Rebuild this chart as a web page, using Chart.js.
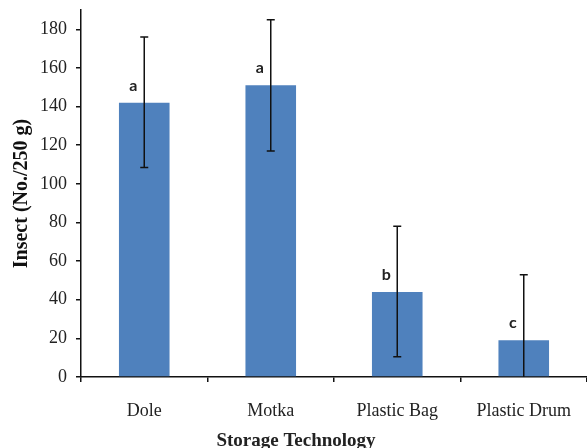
<!DOCTYPE html>
<html>
<head>
<meta charset="utf-8">
<script src="https://cdn.jsdelivr.net/npm/chart.js@4.4.0/dist/chart.umd.min.js"></script>
<style>
  html, body { margin: 0; padding: 0; background: #fff; }
  #wrap { width: 587px; height: 448px; }
</style>
</head>
<body>
<div id="wrap"><canvas id="insectChart"></canvas></div>
<script>
const categories = ["Dole", "Motka", "Plastic Bag", "Plastic Drum"];
const insectMeans = [142, 151, 44, 19];
const errHigh = [176, 185, 78, 53];
const errLow = [108.5, 117, 10.5, 0];
const groupLetters = ["a", "a", "b", "c"];
const yTicks = [0, 20, 40, 60, 80, 100, 120, 140, 160, 180];

// error bars + significance letters
const extrasPlugin = {
  id: "extras",
  afterDatasetsDraw(chart) {
    const ctx = chart.ctx;
    const y = chart.scales.y;
    const bars = chart.getDatasetMeta(0).data;
    ctx.save();
    ctx.strokeStyle = "#111";
    ctx.lineWidth = 1.5;
    bars.forEach((bar, i) => {
      const top = y.getPixelForValue(errHigh[i]);
      const bot = y.getPixelForValue(errLow[i]);
      ctx.beginPath();
      ctx.moveTo(bar.x, top);
      ctx.lineTo(bar.x, bot);
      ctx.moveTo(bar.x - 4, top);
      ctx.lineTo(bar.x + 4, top);
      if (errLow[i] > 0) {
        ctx.moveTo(bar.x - 4, bot);
        ctx.lineTo(bar.x + 4, bot);
      }
      ctx.stroke();
    });
    ctx.fillStyle = "#222";
    ctx.font = "bold 16px Lato, 'Liberation Sans', sans-serif";
    ctx.textAlign = "center";
    ctx.textBaseline = "middle";
    bars.forEach((bar, i) => {
      ctx.fillText(groupLetters[i], bar.x - 11, bar.y - 17);
    });
    // x axis title, sits a bit left of centre in the original
    ctx.font = "bold 19px 'Liberation Serif', serif";
    ctx.textBaseline = "alphabetic";
    ctx.fillText("Storage Technology", 296, 446);
    ctx.restore();
  }
};

new Chart(document.getElementById("insectChart"), {
  type: "bar",
  data: {
    labels: categories,
    datasets: [{
      data: insectMeans,
      backgroundColor: "#4F81BD",
      categoryPercentage: 1,
      barPercentage: 0.4
    }]
  },
  options: {
    responsive: true,
    maintainAspectRatio: false,
    animation: false,
    layout: { padding: { top: 10, right: 0, left: 0, bottom: 0 } },
    plugins: { legend: { display: false }, tooltip: { enabled: false } },
    scales: {
      x: {
        grid: { display: true, drawOnChartArea: false, drawTicks: true, tickLength: 5, color: "#111", lineWidth: 1.5 },
        border: { display: true, color: "#111", width: 1.5 },
        ticks: { color: "#222", padding: 18, font: { family: "'Liberation Serif', serif", size: 18 } },
        afterFit(scale) {
          scale.height = 71;
          scale.paddingLeft = 0;
          scale.paddingRight = 0;
        }
      },
      y: {
        min: 0,
        max: 190,
        afterBuildTicks(scale) { scale.ticks = yTicks.map(v => ({ value: v })); },
        grid: { display: true, drawOnChartArea: false, drawTicks: true, tickLength: 5, color: "#111", lineWidth: 1.5 },
        border: { display: true, color: "#111", width: 1.5 },
        ticks: { color: "#222", padding: 9, font: { family: "'Liberation Serif', serif", size: 18 } },
        title: {
          display: true,
          text: "Insect (No./250 g)",
          color: "#111",
          padding: { top: 10, bottom: 0 },
          font: { family: "'Liberation Serif', serif", size: 20, weight: "bold" }
        },
        afterFit(scale) {
          scale.width = 81;
          scale.paddingTop = 0;
          scale.paddingBottom = 0;
        }
      }
    }
  },
  plugins: [extrasPlugin]
});
</script>
</body>
</html>
